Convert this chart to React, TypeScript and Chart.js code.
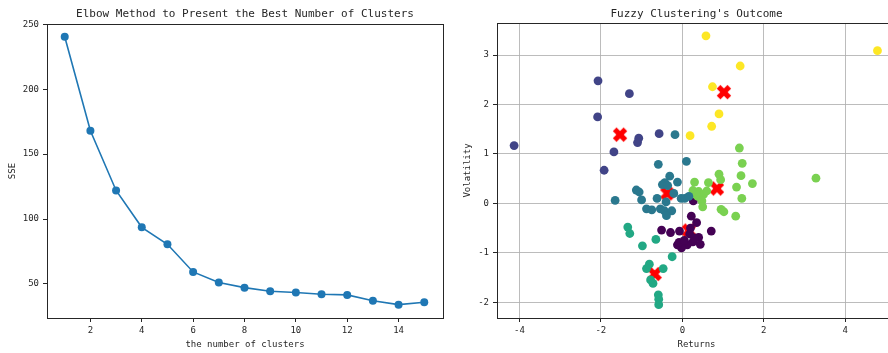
import React, { useEffect, useRef } from "react";
import { Chart, registerables } from "chart.js";

Chart.register(...registerables);

// ---------- Elbow chart data ----------
const clusterCounts = [1, 2, 3, 4, 5, 6, 7, 8, 9, 10, 11, 12, 13, 14, 15];
const sseValues = [240.5, 168, 122, 93.6, 80.5, 59.2, 51, 47.1, 44.3, 43.3, 42.0, 41.5, 37.0, 34.0, 35.8];
const elbowXTicks = [2, 4, 6, 8, 10, 12, 14];
const elbowYTicks = [50, 100, 150, 200, 250];

// ---------- Fuzzy clustering data (returns, volatility) ----------
const cluster0Returns = [0.27, 0.22, 0.35, 0.71, 0.40, 0.44, 0.26, 0.12, -0.02, -0.12, -0.08, -0.07, -0.29, -0.51, 0.18, 0.05, 0.20, 0.30];
const cluster0Vol = [0.05, -0.26, -0.39, -0.56, -0.69, -0.83, -0.78, -0.84, -0.90, -0.84, -0.79, -0.56, -0.59, -0.54, -0.62, -0.75, -0.50, -0.70];

const cluster1Returns = [-4.13, -2.07, -1.30, -2.08, -1.68, -1.92, -1.07, -1.10, -0.57];
const cluster1Vol = [1.17, 2.48, 2.22, 1.75, 1.04, 0.67, 1.32, 1.23, 1.41];

const cluster2Returns = [-0.18, -0.59, 0.10, -0.31, -0.12, -0.43, -0.49, -0.36, -1.13, -1.06, -1.65, -1.0, -0.62, -0.21, -0.03, 0.06, 0.16, -0.88, -0.75, -0.54, -0.44, -0.26, -0.39, -0.40];
const cluster2Vol = [1.39, 0.79, 0.85, 0.55, 0.43, 0.42, 0.38, 0.36, 0.27, 0.23, 0.06, 0.07, 0.10, 0.20, 0.10, 0.10, 0.14, -0.11, -0.13, -0.11, -0.15, -0.15, -0.25, 0.03];

const cluster3Returns = [-1.34, -1.29, -0.98, -0.65, -0.25, -0.81, -0.88, -0.47, -0.72, -0.78, -0.59, -0.58, -0.58];
const cluster3Vol = [-0.48, -0.61, -0.86, -0.73, -1.08, -1.23, -1.32, -1.32, -1.62, -1.55, -1.85, -1.94, -2.05];

const cluster4Returns = [1.40, 1.47, 1.44, 1.72, 1.33, 1.46, 3.28, 0.90, 0.94, 0.30, 0.64, 0.26, 0.40, 0.52, 0.38, 0.48, 0.50, 0.95, 1.02, 1.31, 0.33, 0.60];
const cluster4Vol = [1.12, 0.81, 0.56, 0.40, 0.33, 0.10, 0.51, 0.59, 0.48, 0.43, 0.42, 0.26, 0.24, 0.18, 0.14, 0.05, -0.07, -0.12, -0.17, -0.26, 0.18, 0.25];

const cluster5Returns = [0.58, 4.79, 1.42, 0.74, 0.90, 0.72, 0.19];
const cluster5Vol = [3.39, 3.09, 2.78, 2.36, 1.81, 1.56, 1.37];

const centerReturns = [0.16, -1.53, -0.37, -0.68, 0.85, 1.02];
const centerVol = [-0.55, 1.39, 0.20, -1.43, 0.30, 2.25];

const clusterColors = ["#440154", "#414487", "#2a788e", "#22a884", "#7ad151", "#fde725"];
const fuzzyXTicks = [-4, -2, 0, 2, 4];
const fuzzyYTicks = [-2, -1, 0, 1, 2, 3];

const TEXT = "#262626";
const MONO = "'DejaVu Sans Mono', 'Liberation Mono', monospace";

const pairs = (xs: number[], ys: number[]) => xs.map((x, i) => ({ x, y: ys[i] }));

function makeXMarker(): HTMLCanvasElement {
  const c = document.createElement("canvas");
  c.width = 18;
  c.height = 18;
  const g = c.getContext("2d")!;
  g.translate(9, 9);
  g.rotate(Math.PI / 4);
  g.fillStyle = "#ff0000";
  const L = 7.6;
  const w = 2.6;
  g.fillRect(-L, -w, 2 * L, 2 * w);
  g.fillRect(-w, -L, 2 * w, 2 * L);
  return c;
}

function framePlugin(title: string, xLabel: string, yLabel: string, yLabelX: number) {
  return {
    id: "frameText",
    afterDraw(chart: any) {
      const { ctx, chartArea: a } = chart;
      ctx.save();
      ctx.strokeStyle = TEXT;
      ctx.lineWidth = 1;
      ctx.strokeRect(a.left + 0.5, a.top + 0.5, a.right - a.left, a.bottom - a.top);
      ctx.fillStyle = TEXT;
      ctx.textAlign = "center";
      ctx.textBaseline = "alphabetic";
      const cx = (a.left + a.right) / 2;
      ctx.font = `11px ${MONO}`;
      ctx.fillText(title, cx, 16.5);
      ctx.font = `9px ${MONO}`;
      ctx.fillText(xLabel, cx, 347);
      ctx.translate(yLabelX, (a.top + a.bottom) / 2);
      ctx.rotate(-Math.PI / 2);
      ctx.textBaseline = "middle";
      ctx.fillText(yLabel, 0, 0);
      ctx.restore();
    },
  };
}

function scaleBase(min: number, max: number, ticks: number[], size: number, horizontal: boolean, gridOn: boolean) {
  return {
    type: "linear",
    min,
    max,
    afterBuildTicks: (s: any) => {
      s.ticks = ticks.map((v) => ({ value: v }));
    },
    afterFit: (s: any) => {
      if (horizontal) s.height = size;
      else s.width = size;
    },
    border: { display: false },
    grid: {
      display: true,
      drawOnChartArea: gridOn,
      drawTicks: true,
      tickLength: 4,
      tickColor: TEXT,
      tickWidth: 1,
      color: "rgba(176,176,176,0.85)",
      lineWidth: 1,
    },
    ticks: {
      color: TEXT,
      font: { family: MONO, size: 9 },
      padding: horizontal ? 3 : 4,
      maxRotation: 0,
      autoSkip: false,
      callback: (v: any) => String(v),
    },
  };
}

function ChartCanvas({ makeConfig, left, width }: { makeConfig: () => any; left: number; width: number }) {
  const ref = useRef<HTMLCanvasElement>(null);
  useEffect(() => {
    const chart = new Chart(ref.current!, makeConfig());
    return () => chart.destroy();
  }, []);
  return (
    <canvas
      ref={ref}
      width={width}
      height={353}
      style={{ position: "absolute", left, top: 0, width, height: 353 }}
    />
  );
}

const elbowConfig = () => ({
  type: "line",
  data: {
    datasets: [
      {
        data: pairs(clusterCounts, sseValues),
        borderColor: "#1f77b4",
        backgroundColor: "#1f77b4",
        borderWidth: 1.6,
        pointRadius: 4,
        pointBorderWidth: 0,
        pointBackgroundColor: "#1f77b4",
        tension: 0,
      },
    ],
  },
  options: {
    animation: false,
    responsive: false,
    devicePixelRatio: 1,
    layout: { padding: { left: 0, top: 24, right: 7, bottom: 0 } },
    plugins: { legend: { display: false }, title: { display: false }, tooltip: { enabled: false } },
    scales: {
      x: scaleBase(0.31, 15.73, elbowXTicks, 35, true, false),
      y: scaleBase(23.7, 250.3, elbowYTicks, 47, false, false),
    },
  },
  plugins: [framePlugin("Elbow Method to Present the Best Number of Clusters", "the number of clusters", "SSE", 12.5)],
});

const fuzzyConfig = () => {
  const marker = makeXMarker();
  const clusterSets = [
    pairs(cluster0Returns, cluster0Vol),
    pairs(cluster1Returns, cluster1Vol),
    pairs(cluster2Returns, cluster2Vol),
    pairs(cluster3Returns, cluster3Vol),
    pairs(cluster4Returns, cluster4Vol),
    pairs(cluster5Returns, cluster5Vol),
  ];
  const order = [2, 1, 3, 4, 0, 5];
  return {
    type: "scatter",
    data: {
      datasets: [
        ...order.map((k) => ({
          data: clusterSets[k],
          backgroundColor: clusterColors[k],
          borderWidth: 0,
          pointRadius: 4.4,
        })),
        {
          data: pairs(centerReturns, centerVol),
          pointStyle: marker,
          pointRadius: 9,
          backgroundColor: "#ff0000",
          borderWidth: 0,
        },
      ],
    },
    options: {
      animation: false,
      responsive: false,
      devicePixelRatio: 1,
      layout: { padding: { left: 0, top: 23, right: 8, bottom: 0 } },
      plugins: { legend: { display: false }, title: { display: false }, tooltip: { enabled: false } },
      scales: {
        x: scaleBase(-4.55, 5.245, fuzzyXTicks, 35, true, true),
        y: scaleBase(-2.32, 3.65, fuzzyYTicks, 47, false, true),
      },
    },
    plugins: [framePlugin("Fuzzy Clustering's Outcome", "Returns", "Volatility", 17.3)],
  };
};

export default function App() {
  return (
    <div
      style={{
        position: "absolute",
        left: 0,
        top: 0,
        width: 888,
        height: 353,
        overflow: "hidden",
        background: "#ffffff",
      }}
    >
      <ChartCanvas makeConfig={elbowConfig} left={0} width={450} />
      <ChartCanvas makeConfig={fuzzyConfig} left={450} width={455} />
    </div>
  );
}
